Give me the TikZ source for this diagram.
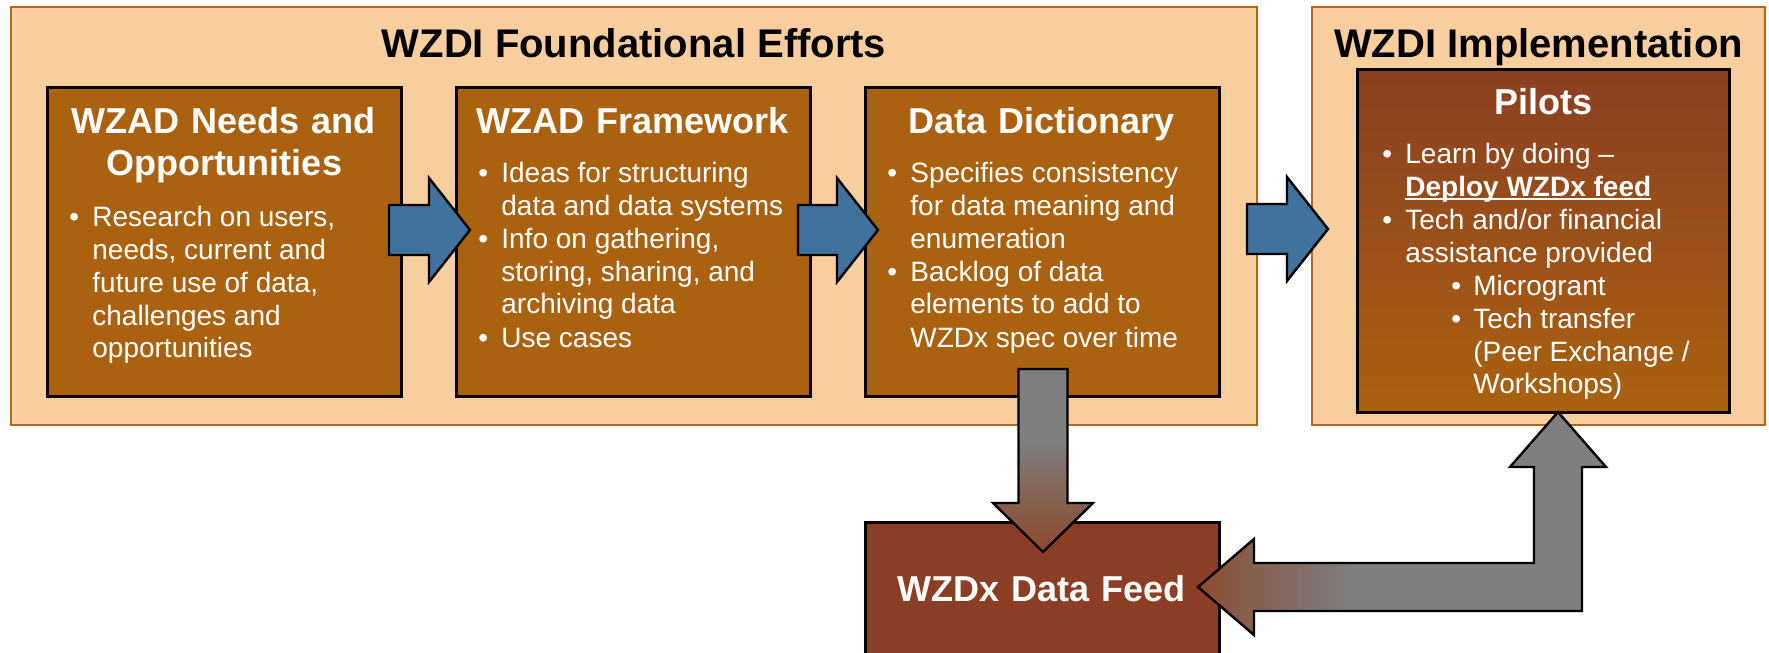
\documentclass[tikz,border=0pt]{standalone}
\usepackage{fontspec}
\setmainfont{Liberation Sans}
\usetikzlibrary{positioning,calc}

\definecolor{peach}{HTML}{F8CE9F}
\definecolor{peachline}{HTML}{B5661C}
\definecolor{boxfill}{HTML}{AA6210}
\definecolor{pilottop}{HTML}{8B3F22}
\definecolor{feedfill}{HTML}{8B3E23}
\definecolor{flowblue}{HTML}{41729B}
\definecolor{flowgray}{HTML}{7F7F7F}
\definecolor{flowbrown}{HTML}{8B4A2E}
\colorlet{flowmid}{flowgray!45!flowbrown}

\pgfdeclareverticalshading{downflow}{100bp}{color(0bp)=(flowbrown); color(25bp)=(flowbrown); color(40bp)=(flowmid); color(55bp)=(flowgray); color(100bp)=(flowgray)}
\pgfdeclarehorizontalshading{backflow}{100bp}{color(0bp)=(flowbrown); color(25bp)=(flowbrown); color(32bp)=(flowmid); color(44bp)=(flowgray); color(100bp)=(flowgray)}

\newcommand{\bul}{\makebox[11.5pt][l]{\textbullet}}
\newcommand{\cont}{\hspace*{11.5pt}}
\newcommand{\subbul}{\hspace*{34.5pt}\makebox[11pt][l]{\textbullet}}
\newcommand{\subcont}{\hspace*{45.5pt}}
\newcommand{\ulnd}[1]{\setbox0\hbox{#1}\rlap{\rule[-2pt]{\wd0}{1pt}}\box0}

% horizontal block arrow from #1 (tail) to #2 (tip)
\newcommand{\blockright}[2]{%
\draw[bluearrow] let \p1=(#1), \p2=(#2) in
  (\x1,\y1+12.5pt) -- (\x2-20.5pt,\y1+12.5pt) -- (\x2-20.5pt,\y1+26pt) -- (\x2,\y2)
  -- (\x2-20.5pt,\y1-26pt) -- (\x2-20.5pt,\y1-12.5pt) -- (\x1,\y1-12.5pt) -- cycle;}

\begin{document}
\begin{tikzpicture}[x=0.5pt,y=-0.5pt,
outerbox/.style = {draw=peachline, line width=1pt, fill=peach, anchor=north west, inner sep=0pt, outer sep=0pt, minimum height=209pt},
stagebox/.style = {draw=black, line width=1.5pt, fill=boxfill, minimum width=177pt, minimum height=154.5pt, inner sep=0pt, outer sep=0pt},
maintitle/.style = {anchor=base, inner sep=0pt, font=\bfseries\fontsize{20pt}{24pt}\selectfont},
boxtitle/.style = {anchor=base, inner sep=0pt, text=white, text width=172pt, align=center, font=\bfseries\fontsize{18pt}{21pt}\selectfont},
boxbody/.style = {anchor=base west, inner sep=0pt, text=white, font=\fontsize{14pt}{16.5pt}\selectfont},
bluearrow/.style = {draw=black, line width=1.2pt, fill=flowblue},
grayarrow/.style = {draw=black, line width=1.2pt, shade}]
\useasboundingbox (0,0) rectangle (1769,653);

% frames
\node[outerbox, minimum width=623pt] (fnd) at (11,7) {};
\node[outerbox, minimum width=226.5pt] (impl) at (1312,7) {};
\node[maintitle] (fndtitle) at ([yshift=-25pt]fnd.north) {WZDI Foundational Efforts};
\node[maintitle] (impltitle) at ([yshift=-25pt]impl.north) {WZDI Implementation};

% stages
\node[stagebox, anchor=north west] (needs) at (47,87) {};
\node[stagebox, right=27.5pt of needs] (frame) {};
\node[stagebox, right=27.5pt of frame] (dict) {};
\node[stagebox, anchor=north west, minimum width=186pt, minimum height=171.5pt, top color=pilottop, bottom color=boxfill, draw=black] (pilots) at (1357,69) {};
\node[stagebox, anchor=north west, fill=feedfill, minimum height=67pt] (feed) at (865,522) {};

\node[boxtitle] (needstitle) at ([yshift=-23pt]needs.north) {WZAD Needs and\\Opportunities};
\node[boxbody] (needsbody) at ([xshift=11pt,yshift=-69.5pt]needs.north west) {\begin{tabular}[t]{@{}l@{}}
\bul Research on users,\\
\cont needs, current and\\
\cont future use of data,\\
\cont challenges and\\
\cont opportunities
\end{tabular}};

\node[boxtitle] (frametitle) at ([yshift=-23pt]frame.north) {WZAD Framework};
\node[boxbody] (framebody) at ([xshift=11pt,yshift=-47.5pt]frame.north west) {\begin{tabular}[t]{@{}l@{}}
\bul Ideas for structuring\\
\cont data and data systems\\
\bul Info on gathering,\\
\cont storing, sharing, and\\
\cont archiving data\\
\bul Use cases
\end{tabular}};

\node[boxtitle] (dicttitle) at ([yshift=-23pt]dict.north) {Data Dictionary};
\node[boxbody] (dictbody) at ([xshift=11pt,yshift=-47.5pt]dict.north west) {\begin{tabular}[t]{@{}l@{}}
\bul Specifies consistency\\
\cont for data meaning and\\
\cont enumeration\\
\bul Backlog of data\\
\cont elements to add to\\
\cont WZDx spec over time
\end{tabular}};

\node[boxtitle] (pilotstitle) at ([yshift=-22.5pt]pilots.north) {Pilots};
\node[boxbody] (pilotsbody) at ([xshift=12.5pt,yshift=-47pt]pilots.north west) {\begin{tabular}[t]{@{}l@{}}
\bul Learn by doing --\\
\cont \ulnd{\textbf{Deploy WZDx feed}}\\
\bul Tech and/or financial\\
\cont assistance provided\\
\subbul Microgrant\\
\subbul Tech transfer\\
\subcont (Peer Exchange /\\
\subcont Workshops)
\end{tabular}};

\node[boxtitle] (feedtitle) at ([yshift=-39.5pt]feed.north) {WZDx Data Feed};

% flow arrows
\coordinate (a1s) at (389,230);
\coordinate (a1e) at (470,230);
\coordinate (a2s) at (798,230);
\coordinate (a2e) at (878,230);
\coordinate (a3s) at (1247,229);
\coordinate (a3e) at (1328,229);
\blockright{a1s}{a1e}
\blockright{a2s}{a2e}
\blockright{a3s}{a3e}

% dictionary to feed
\coordinate (ds) at (1043,369);
\coordinate (de) at (1043,552);
\draw[grayarrow, shading=downflow] let \p1=(ds), \p2=(de) in
  (\x1-12.25pt,\y1) -- (\x1-12.25pt,\y2+24.5pt) -- (\x1-25pt,\y2+24.5pt) -- (\x2,\y2)
  -- (\x1+25pt,\y2+24.5pt) -- (\x1+12.25pt,\y2+24.5pt) -- (\x1+12.25pt,\y1) -- cycle;

% feed and pilots, both ways
\coordinate (fdtip) at (1198,587);
\coordinate (pltip) at (1558,412);
\draw[grayarrow, shading=backflow] let \p1=(fdtip), \p2=(pltip) in
  (\x1,\y1) -- (\x1+28pt,\y1+24pt) -- (\x1+28pt,\y1+12pt) -- (\x2-12pt,\y1+12pt)
  -- (\x2-12pt,\y2-27.5pt) -- (\x2-24pt,\y2-27.5pt) -- (\x2,\y2) -- (\x2+24pt,\y2-27.5pt)
  -- (\x2+12pt,\y2-27.5pt) -- (\x2+12pt,\y1-12pt) -- (\x1+28pt,\y1-12pt) -- (\x1+28pt,\y1-24pt) -- cycle;
\end{tikzpicture}
\end{document}
